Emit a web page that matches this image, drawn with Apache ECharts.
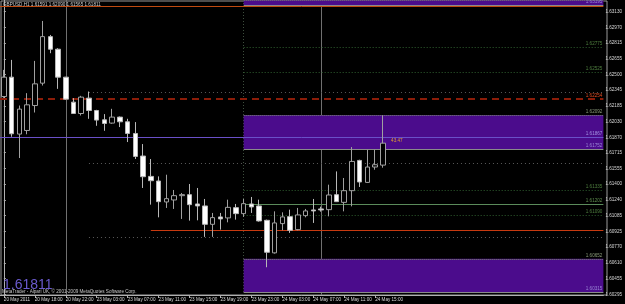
<!DOCTYPE html>
<html>
<head>
<meta charset="utf-8">
<script src="https://cdn.jsdelivr.net/npm/echarts@6/dist/echarts.min.js"></script>
<style>
  html, body { margin: 0; padding: 0; background: #000; }
  #chart { width: 625px; height: 304px; }
</style>
</head>
<body>
<div id="chart"></div>
<script>
// 图表数据
const symbolName = 'GBPUSD,H1'
const firstLabel = '20 May 2011'
const copyright = 'MetaTrader - Alpari UK, © 2001-2009 MetaQuotes Software Corp.'
const times = [
  '20 May 14:00', '20 May 15:00', '20 May 16:00', '20 May 17:00', '20 May 18:00', '20 May 19:00', '20 May 20:00', '20 May 21:00', '20 May 22:00', '20 May 23:00',
  '23 May 01:00', '23 May 02:00', '23 May 03:00', '23 May 04:00', '23 May 05:00', '23 May 06:00', '23 May 07:00', '23 May 08:00', '23 May 09:00', '23 May 10:00',
  '23 May 11:00', '23 May 12:00', '23 May 13:00', '23 May 14:00', '23 May 15:00', '23 May 16:00', '23 May 17:00', '23 May 18:00', '23 May 19:00', '23 May 20:00',
  '23 May 21:00', '23 May 22:00', '23 May 23:00', '24 May 00:00', '24 May 01:00', '24 May 02:00', '24 May 03:00', '24 May 04:00', '24 May 05:00', '24 May 06:00',
  '24 May 07:00', '24 May 08:00', '24 May 09:00', '24 May 10:00', '24 May 11:00', '24 May 12:00', '24 May 13:00', '24 May 14:00', '24 May 15:00', '24 May 16:00'
]
const opens = [
  1.62278, 1.62472, 1.61902, 1.61938, 1.62188, 1.62412, 1.62878, 1.62752, 1.62472, 1.62222,
  1.62108, 1.62262, 1.62138, 1.62045, 1.62012, 1.62072, 1.62025, 1.61908, 1.61682, 1.61478,
  1.61432, 1.61222, 1.61242, 1.61285, 1.61295, 1.61202, 1.61182, 1.60998, 1.61072, 1.61062,
  1.61165, 1.61105, 1.61202, 1.61182, 1.61038, 1.60712, 1.61005, 1.61075, 1.60945, 1.61085,
  1.61142, 1.61152, 1.61145, 1.61295, 1.61218, 1.61335, 1.61638, 1.61418, 1.61572, 1.61591
]
const closes = [
  1.62472, 1.61905, 1.62152, 1.62195, 1.62405, 1.62878, 1.62752, 1.62472, 1.62252, 1.62108,
  1.62272, 1.62138, 1.62042, 1.62008, 1.62072, 1.62025, 1.61908, 1.61678, 1.61475, 1.61435,
  1.61225, 1.61255, 1.61285, 1.61295, 1.61195, 1.61182, 1.60998, 1.61065, 1.61052, 1.61168,
  1.61105, 1.61205, 1.61172, 1.61032, 1.60718, 1.61012, 1.61072, 1.60938, 1.61092, 1.61132,
  1.61132, 1.61142, 1.61292, 1.61225, 1.61335, 1.61628, 1.61422, 1.61572, 1.61595, 1.61811
]
const lows = [
  1.62265, 1.61875, 1.61662, 1.61900, 1.62118, 1.62388, 1.62712, 1.62355, 1.62245, 1.62105,
  1.62088, 1.62055, 1.61985, 1.61935, 1.62005, 1.61972, 1.61822, 1.61652, 1.61362, 1.61195,
  1.61068, 1.61162, 1.61152, 1.61052, 1.61035, 1.61038, 1.60872, 1.60872, 1.60945, 1.61018,
  1.61045, 1.61072, 1.61112, 1.61025, 1.60568, 1.60705, 1.60938, 1.60912, 1.60938, 1.61068,
  1.61012, 1.61125, 1.61078, 1.61222, 1.61128, 1.61178, 1.61372, 1.61412, 1.61545, 1.61565
]
const highs = [
  1.62545, 1.62645, 1.62188, 1.62312, 1.62635, 1.63035, 1.62895, 1.62762, 1.62475, 1.62262,
  1.62285, 1.62328, 1.62145, 1.62102, 1.62155, 1.62078, 1.62055, 1.62022, 1.61802, 1.61652,
  1.61478, 1.61495, 1.61342, 1.61312, 1.61402, 1.61362, 1.61252, 1.61112, 1.61112, 1.61245,
  1.61202, 1.61252, 1.61272, 1.61245, 1.61045, 1.61128, 1.61118, 1.61145, 1.61162, 1.61152,
  1.61252, 1.61175, 1.61395, 1.61528, 1.61462, 1.61772, 1.61645, 1.61745, 1.61745, 1.62090
]
// 右侧价格刻度
const priceTicks = [
  1.63130, 1.62970, 1.62815, 1.62655, 1.62500, 1.62345, 1.62185, 1.62030, 1.61870, 1.61715,
  1.61555, 1.61400, 1.61240, 1.61085, 1.60925, 1.60770, 1.60610, 1.60455, 1.60295
]
// 图上的水平线 / 区域
const dottedLevels = [1.62325, 1.61605, 1.60872]
const greenLevels = [1.62775, 1.62525, 1.61335, 1.61090]
const greenSolidLevel = 1.61202
const redDashedLevel = 1.62254
const orangeLevel = 1.63178
const redLevel = 1.60942
const purpleLevel = 1.61867
const zones = [[1.63245, 1.63195], [1.62092, 1.61752], [1.60652, 1.60315]]
const vLines = [8, 41]
const zoneStart = 31
const dottedStart = 11
const redStart = 19
const noteText = '43.47'
const notePos = [50.8, 1.61835]

const slotCount = 78
const slots = times.concat(new Array(slotCount - times.length).fill(''))
const candles = opens.map((o, i) => [o, closes[i], lows[i], highs[i]])
const last = times.length - 1
const xEnd = slotCount - 0.5
const fs = 4.6
const font = 'Liberation Sans, Arial, sans-serif'

const showTick = (i, v) => i % 4 === 0 && v !== ''

// 水平线段
const seg = (x0, price, lineStyle, labelColor) => [
  {
    coord: [x0, price],
    lineStyle,
    label: labelColor
      ? { show: true, position: 'insideEndTop', distance: 1, formatter: price.toFixed(5), color: labelColor, fontSize: fs, fontFamily: font }
      : { show: false }
  },
  { coord: [xEnd, price] }
]

const hLines = [
  seg(-0.5, orangeLevel, { color: '#c04a10', width: 1, type: 'solid' }),
  seg(-0.5, redDashedLevel, { color: '#8c1c08', width: 2, type: [7, 5] }, '#e04a20'),
  seg(-0.5, purpleLevel, { color: '#6a50c8', width: 1, type: 'solid' }, '#a090e0'),
  seg(redStart, redLevel, { color: '#c83a10', width: 1.2, type: 'solid' }),
  seg(zoneStart, greenSolidLevel, { color: '#5b8b5b', width: 1, type: 'solid' }, '#5f8f4f'),
  ...dottedLevels.map(p => seg(dottedStart, p, { color: '#5a5a5a', width: 1, type: [1, 3] })),
  ...greenLevels.map(p => seg(zoneStart, p, { color: '#2f5f2f', width: 1, type: [1, 2] }, '#4f7f3f')),
  ...zones.map(z => seg(zoneStart, z[0], { color: '#7a8a70', width: 1, type: [1, 1] }, '#8a9a7a')),
  ...zones.map(z => seg(zoneStart, z[1], { color: '#8a8a8a', width: 1, type: 'solid' }, '#9a86d6'))
]

const chart = echarts.init(document.getElementById('chart'))
chart.setOption({
  animation: false,
  backgroundColor: '#000',
  grid: { left: -2, right: 18, top: 0, bottom: 9 },
  xAxis: [
    {
      type: 'category',
      data: slots,
      boundaryGap: true,
      axisLine: { lineStyle: { color: '#b0b0b0' } },
      axisTick: { show: true, alignWithLabel: true, interval: showTick, length: 3, lineStyle: { color: '#b0b0b0' } },
      axisLabel: {
        interval: showTick,
        align: 'left',
        color: '#d8d8d8',
        fontSize: fs,
        fontFamily: font,
        margin: 2,
        formatter: (v, i) => (i === 0 ? firstLabel : v)
      },
      splitLine: { show: false }
    },
    { type: 'value', min: -0.5, max: xEnd, show: false }
  ],
  yAxis: {
    type: 'value',
    position: 'right',
    min: 1.6029,
    max: 1.63245,
    axisLine: { show: true, lineStyle: { color: '#b0b0b0' } },
    axisTick: { show: true, customValues: priceTicks, length: 2, lineStyle: { color: '#b0b0b0' } },
    axisLabel: { customValues: priceTicks, formatter: v => v.toFixed(5), color: '#d8d8d8', fontSize: fs, fontFamily: font, margin: 2 },
    splitLine: { show: false }
  },
  graphic: [
    { type: 'rect', z: 0, shape: { x: 1, y: 1, width: 606, height: 294 }, style: { fill: null, stroke: '#9a9a9a', lineWidth: 1 } },
    {
      type: 'text', left: 3, top: 2, z: 10,
      style: {
        text: [symbolName, opens[last], highs[last], lows[last], closes[last]].map(v => (typeof v === 'number' ? v.toFixed(5) : v)).join(' '),
        fill: '#d0d0d0', font: fs + 'px ' + font
      }
    },
    { type: 'text', left: 3, top: 278, z: 10, style: { text: closes[last].toFixed(5), fill: '#6a5acd', font: '14px ' + font } },
    { type: 'text', left: 2, top: 289, z: 11, style: { text: copyright, fill: '#c8c8c8', font: fs + 'px ' + font } }
  ],
  series: [
    {
      name: 'vlines',
      type: 'line',
      xAxisIndex: 1,
      data: [],
      markLine: {
        z: 0.5,
        silent: true,
        symbol: ['none', 'none'],
        label: { show: false },
        data: [
          ...vLines.map(i => ({ xAxis: i, lineStyle: { color: '#707070', width: 1, type: 'solid' } })),
          { xAxis: zoneStart, lineStyle: { color: '#3d4d3d', width: 1, type: [1, 2] } }
        ]
      }
    },
    {
      name: 'zones',
      type: 'line',
      xAxisIndex: 1,
      data: [],
      markArea: {
        z: 1,
        silent: true,
        itemStyle: { color: '#4b0c8c' },
        data: zones.map(z => [{ coord: [zoneStart, z[0]] }, { coord: [xEnd, z[1]] }])
      },
      markLine: {
        z: 1.5,
        silent: true,
        symbol: ['none', 'none'],
        data: hLines
      }
    },
    {
      name: 'price',
      type: 'line',
      xAxisIndex: 1,
      data: [],
      markLine: {
        z: 5,
        silent: true,
        symbol: ['none', 'none'],
        lineStyle: { opacity: 0 },
        label: {
          show: true, position: 'end', distance: 2,
          formatter: p => p.value.toFixed(5),
          backgroundColor: '#fff', color: '#000', fontSize: fs, fontFamily: font, padding: [1, 1, 0, 1]
        },
        data: [{ yAxis: closes[last] }]
      },
      markPoint: {
        z: 5,
        silent: true,
        symbol: 'circle',
        symbolSize: 0,
        label: { show: true, position: 'inside', color: '#e0a030', fontSize: fs, fontFamily: font, formatter: noteText },
        data: [{ coord: notePos }]
      }
    },
    {
      name: symbolName,
      type: 'candlestick',
      xAxisIndex: 0,
      z: 2,
      barWidth: 5,
      data: candles,
      itemStyle: { color: '#000', color0: '#fff', borderColor: '#a0a0a0', borderColor0: '#b8b8b8', borderWidth: 1 }
    }
  ]
})
</script>
</body>
</html>
